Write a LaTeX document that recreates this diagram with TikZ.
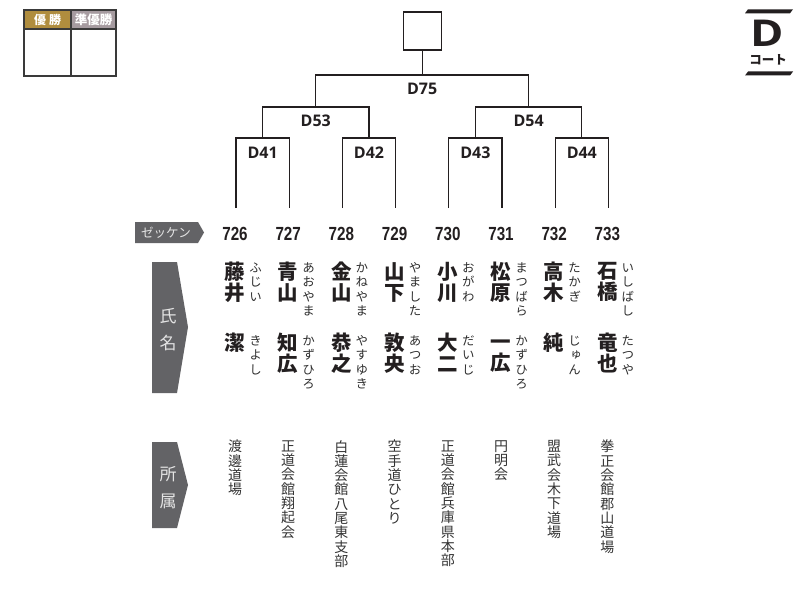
\documentclass[tikz,border=0pt]{standalone}
\usepackage{fontspec}
\newfontfamily\jp{Noto Sans CJK JP}
\newfontfamily\jpv{Noto Sans CJK JP}[RawFeature=+vert]
\newfontfamily\numf{Liberation Sans}[FakeStretch=0.8]
\newfontfamily\dfont{Open Sans}
\definecolor{ink}{HTML}{231F20}
\definecolor{furic}{HTML}{2E2E2E}
\definecolor{affc}{HTML}{333333}
\definecolor{arrowc}{HTML}{636366}
\definecolor{lightt}{HTML}{E4E4E4}
\definecolor{gold}{HTML}{B08D3E}
\definecolor{mauve}{HTML}{A69BA0}
\definecolor{tabline}{HTML}{3A3A3A}
\tikzset{
  bline/.style={draw=ink, line width=1.3pt},
  dlab/.style={font=\dfont\bfseries\fontsize{16}{16}\selectfont, text=ink, inner sep=0pt},
  numlab/.style={font=\numf\bfseries\fontsize{19}{19}\selectfont, text=ink, inner sep=0pt},
  kanji/.style={font=\jp\bfseries\fontsize{20.5}{21}\selectfont, text=ink, align=center, inner sep=0pt, anchor=north},
  furi/.style={font=\jpv\fontsize{12.5}{14.6}\selectfont, text=furic, align=center, inner sep=0pt, anchor=north},
  aff/.style={font=\jp\fontsize{14}{14.3}\selectfont, text=affc, align=center, inner sep=0pt, anchor=north},
  tag/.style={font=\jp\fontsize{17}{27}\selectfont, text=lightt, align=center, inner sep=0pt},
  headtxt/.style={font=\jp\bfseries\fontsize{12}{12}\selectfont, text=white, inner sep=0pt},
}
\begin{document}
\begin{tikzpicture}[x=1pt,y=-1pt]
\useasboundingbox (0,0) rectangle (795,591);

% winner table
\fill[gold] (24,10) rectangle (71,29);
\fill[mauve] (71,10) rectangle (116,29);
\draw[tabline, line width=1.5pt] (24,29) -- (116,29);
\draw[tabline, line width=1.2pt] (71,10) -- (71,76);
\draw[tabline, line width=2pt] (24,10) rectangle (116,76);
\node[headtxt] (hwin) at (47.5,19.5) {優\hspace{3pt}勝};
\node[headtxt, font=\jp\bfseries\fontsize{12.5}{12.5}\selectfont] (hrun) at (93.5,19.5) {準優勝};

% court mark
\fill[ink] (745,13.3) -- (748,9.3) -- (793,9.3) -- (790,13.3) -- cycle;
\fill[ink] (745,75.5) -- (748,71.5) -- (793,71.5) -- (790,75.5) -- cycle;
\node[font=\dfont\bfseries\fontsize{37}{37}\selectfont, text=ink, inner sep=0pt] (court) at (767.5,33.2) {\scalebox{1.22}[1]{D}};
\node[font=\jp\bfseries\fontsize{12.5}{12.5}\selectfont, text=ink, inner sep=0pt] (courtj) at (768,59.5) {コート};

% bracket
\node[draw=ink, line width=1.3pt, minimum width=38pt, minimum height=38pt, inner sep=0pt] (final) at (422.2,31) {};
\foreach \i in {1,...,8} \coordinate (p\i) at ({236+53.2*(\i-1)},208);
\coordinate (m41) at (262.6,138);
\coordinate (m42) at (369,138);
\coordinate (m43) at (475.4,138);
\coordinate (m44) at (581.8,138);
\coordinate (m53) at (315.8,107);
\coordinate (m54) at (528.6,107);
\coordinate (m75) at (422.2,75);
\draw[bline] (p1) |- (m41) -| (p2);
\draw[bline] (p3) |- (m42) -| (p4);
\draw[bline] (p5) |- (m43) -| (p6);
\draw[bline] (p7) |- (m44) -| (p8);
\draw[bline] (m41) |- (m53) -| (m42);
\draw[bline] (m43) |- (m54) -| (m44);
\draw[bline] (m53) |- (m75) -| (m54);
\draw[bline] (m75) -- (final.south);
\node[dlab] (d41) at (262.6,153) {D41};
\node[dlab] (d42) at (369,153) {D42};
\node[dlab] (d43) at (475.4,153) {D43};
\node[dlab] (d44) at (581.8,153) {D44};
\node[dlab] (d53) at (315.8,121) {D53};
\node[dlab] (d54) at (528.6,121) {D54};
\node[dlab] (d75) at (422.2,89) {D75};

% tags
\fill[arrowc] (135,222) -- (198,222) -- (204,232.5) -- (198,243) -- (135,243) -- cycle;
\node[font=\jp\fontsize{12.5}{12.5}\selectfont, text=lightt, inner sep=0pt] (zk) at (166,232.5) {ゼッケン};
\fill[arrowc] (152,262) -- (177,262) -- (188,327) -- (177,393) -- (152,393) -- cycle;
\node[tag] (shimei) at (168,330) {氏\\名};
\fill[arrowc] (152,442) -- (177,442) -- (188,485) -- (177,528) -- (152,528) -- cycle;
\node[tag] (shozoku) at (168,487.5) {所\\属};

% players
\foreach \i/\nm/\fa/\fr/\ga/\gr/\af in {
 1/726/{藤\\井}/{ふ\\じ\\い}/{潔}/{き\\よ\\し}/{渡\\邊\\道\\場},
 2/727/{青\\山}/{あ\\お\\や\\ま}/{知\\広}/{か\\ず\\ひ\\ろ}/{正\\道\\会\\館\\翔\\起\\会},
 3/728/{金\\山}/{か\\ね\\や\\ま}/{恭\\之}/{や\\す\\ゆ\\き}/{白\\蓮\\会\\館\\八\\尾\\東\\支\\部},
 4/729/{山\\下}/{や\\ま\\し\\た}/{敦\\央}/{あ\\つ\\お}/{空\\手\\道\\ひ\\と\\り},
 5/730/{小\\川}/{お\\が\\わ}/{大\\二}/{だ\\い\\じ}/{正\\道\\会\\館\\兵\\庫\\県\\本\\部},
 6/731/{松\\原}/{ま\\つ\\ば\\ら}/{一\\広}/{か\\ず\\ひ\\ろ}/{円\\明\\会},
 7/732/{高\\木}/{た\\か\\ぎ}/{純}/{じ\\ゅ\\ん}/{盟\\武\\会\\木\\下\\道\\場},
 8/733/{石\\橋}/{い\\し\\ば\\し}/{竜\\也}/{た\\つ\\や}/{拳\\正\\会\\館\\郡\\山\\道\\場}} {
  \node[numlab] (num\i) at ({235+53.2*(\i-1)},233.5) {\nm};
  \node[kanji] (fa\i) at ({235+53.2*(\i-1)},262) {\vphantom{国}\fa};
  \node[furi] (fr\i) at ({255.5+53.2*(\i-1)},262) {\vphantom{国}\fr};
  \node[kanji] (ga\i) at ({235+53.2*(\i-1)},333) {\vphantom{国}\ga};
  \node[furi] (gr\i) at ({255.5+53.2*(\i-1)},335) {\vphantom{国}\gr};
  \node[aff] (af\i) at ({235+53.2*(\i-1)},440) {\vphantom{国}\af};
}
\end{tikzpicture}
\end{document}
